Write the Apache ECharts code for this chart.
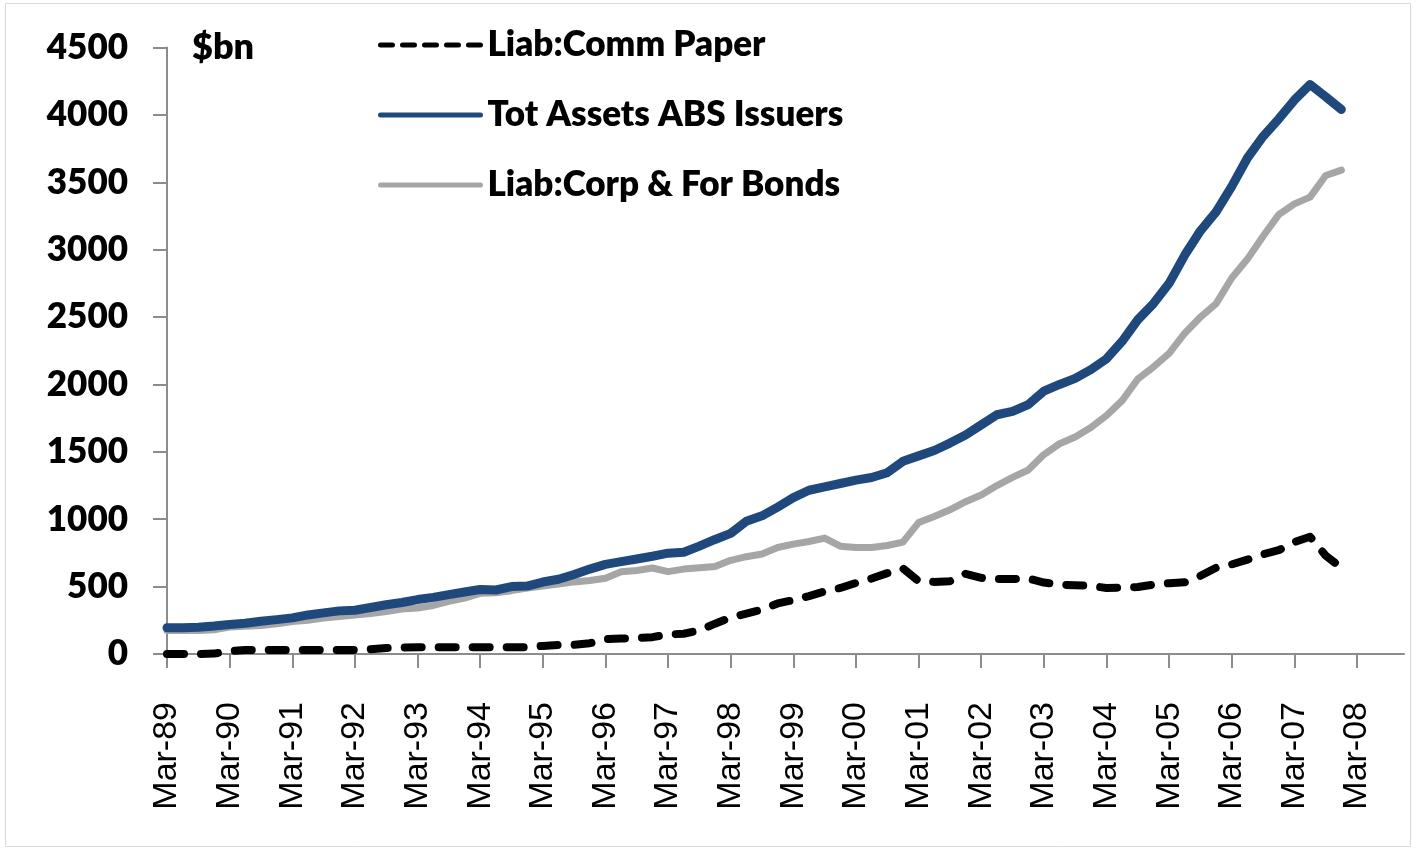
<!DOCTYPE html>
<html><head><meta charset="utf-8">
<script src="https://cdn.jsdelivr.net/npm/echarts@6/dist/echarts.min.js"></script>
<style>html,body{margin:0;padding:0;background:#fff}#c{width:1416px;height:851px}</style>
</head><body><div id="c"></div>
<script>
// ---- data ----
const years = ['89','90','91','92','93','94','95','96','97','98','99','00','01','02','03','04','05','06','07','08'];
const quarterMonths = ['Mar','Jun','Sep','Dec'];
const categories = [];
years.forEach(y => quarterMonths.forEach(m => categories.push(m + '-' + y)));

const yMin = 0, yMax = 4500, yInterval = 500;
const unitLabel = '$bn';
const seriesNames = ['Liab:Comm Paper', 'Tot Assets ABS Issuers', 'Liab:Corp & For Bonds'];

// quarterly, Mar-89 .. Dec-07
const commPaper = [
  0, 0, 0, 3,
  22, 30, 30, 30,
  30, 30, 30, 30,
  30, 35, 45, 48,
  50, 50, 50, 50,
  50, 50, 50, 50,
  60, 67, 68, 80,
  110, 115, 118, 125,
  145, 150, 175, 225,
  270, 300, 330, 375,
  400, 430, 465, 490,
  527, 560, 600, 635,
  540, 535, 540, 595,
  565, 556, 556, 560,
  530, 515, 510, 505,
  490, 493, 497, 515,
  525, 532, 580, 640,
  665, 700, 740, 770,
  830, 870, 730, 640
];
const totAssets = [
  195, 195, 198, 207,
  219, 228, 243, 255,
  268, 290, 305, 320,
  325, 345, 365, 382,
  404, 420, 441, 460,
  479, 475, 500, 504,
  534, 555, 590, 630,
  665, 685, 705, 725,
  748, 755, 800, 850,
  895, 985, 1025, 1090,
  1160, 1215, 1240, 1265,
  1290, 1310, 1345, 1430,
  1470, 1510, 1565, 1625,
  1700, 1775, 1800, 1850,
  1950, 2000, 2045, 2110,
  2190, 2320, 2480, 2600,
  2750, 2960, 3140, 3280,
  3470, 3680, 3840, 3970,
  4110, 4225, 4135, 4040
];
const corpBonds = [
  174, 174, 174, 180,
  200, 205, 211, 225,
  241, 250, 267, 278,
  290, 300, 315, 334,
  341, 360, 390, 415,
  450, 455, 470, 490,
  505, 520, 535, 545,
  562, 610, 620, 638,
  611, 630, 640, 650,
  695, 722, 742, 790,
  815, 835, 860, 800,
  790, 790, 805, 830,
  975, 1020, 1070, 1130,
  1180, 1250, 1310, 1365,
  1480, 1560, 1610, 1680,
  1770, 1880, 2040, 2130,
  2230, 2380, 2500, 2600,
  2790, 2930, 3100, 3260,
  3340, 3390, 3550, 3590
];

// ---- chart ----
const chart = echarts.init(document.getElementById('c'), null, {renderer: 'canvas'});
const boldFont = 'Lato';
const heavy = 800;
const isYearTick = (i) => i % 4 === 0;
const option = {
  backgroundColor: '#fff',
  animation: false,
  grid: {left: 167, right: 12, top: 47.5, bottom: 197},
  legend: {
    orient: 'vertical', left: 373, top: 20, itemWidth: 100, itemHeight: 40, itemGap: 30,
    textStyle: {fontFamily: boldFont, fontWeight: heavy, fontSize: 35, color: '#000', lineHeight: 40, padding: [0,0,0,2]},
    data: [
      {name: seriesNames[0], itemStyle: {opacity: 0}, lineStyle: {width: 5, type: [12, 10], cap: 'round', color: '#000'}},
      {name: seriesNames[1], itemStyle: {opacity: 0}, lineStyle: {width: 5, cap: 'round', color: '#1F497D'}},
      {name: seriesNames[2], itemStyle: {opacity: 0}, lineStyle: {width: 5, cap: 'round', color: '#A6A6A6'}}
    ]
  },
  xAxis: {
    type: 'category', data: categories, boundaryGap: false,
    axisLine: {lineStyle: {color: '#8c8c8c', width: 2}},
    axisTick: {interval: (i) => isYearTick(i), length: 14, lineStyle: {color: '#8c8c8c', width: 2}},
    axisLabel: {interval: (i) => isYearTick(i), rotate: 90, margin: 48, fontFamily: 'Liberation Sans', fontSize: 34, color: '#000', padding: [10,0,0,0]},
    splitLine: {show: false}
  },
  yAxis: {
    type: 'value', min: yMin, max: yMax, interval: yInterval,
    axisLine: {show: true, lineStyle: {color: '#8c8c8c', width: 2}},
    axisTick: {show: true, length: 14, lineStyle: {color: '#8c8c8c', width: 2}},
    axisLabel: {margin: 39, fontFamily: boldFont, fontWeight: heavy, fontSize: 35, color: '#000', formatter: (v) => String(v)},
    splitLine: {show: false}
  },
  graphic: [
    {type: 'rect', shape: {x: 5.5, y: 3.5, width: 1405, height: 843}, style: {fill: null, stroke: '#d9d9d9', lineWidth: 1}, silent: true},
    {type: 'text', left: 192, top: 29, style: {text: unitLabel, fontFamily: boldFont, fontWeight: heavy, fontSize: 36, fill: '#000'}}
  ],
  series: [
    {name: seriesNames[0], type: 'line', data: commPaper, symbol: 'none', z: 3,
     lineStyle: {color: '#000', width: 8, type: [17, 17], cap: 'round', join: 'round'}, itemStyle: {color: '#000'}},
    {name: seriesNames[2], type: 'line', data: corpBonds, symbol: 'none', z: 1,
     lineStyle: {color: '#A6A6A6', width: 7, cap: 'round', join: 'round'}, itemStyle: {color: '#A6A6A6'}},
    {name: seriesNames[1], type: 'line', data: totAssets, symbol: 'none', z: 2,
     lineStyle: {color: '#1F497D', width: 9, cap: 'round', join: 'round'}, itemStyle: {color: '#1F497D'}}
  ]
};
chart.setOption(option);
</script>
</body></html>
